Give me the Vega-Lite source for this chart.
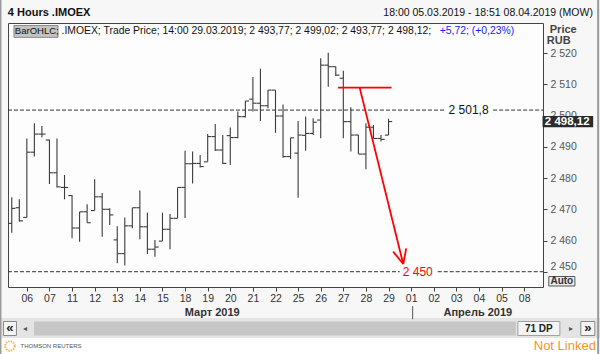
{
  "$schema": "https://vega.github.io/schema/vega-lite/v6.json",
  "width": 535,
  "height": 264,
  "autosize": {"type": "none"},
  "padding": {"left": 8, "top": 23, "right": 57, "bottom": 67},
  "background": "#f7f7f7",
  "config": {
    "view": {"stroke": "#444444", "strokeWidth": 1, "fill": "#fdfdfd"},
    "font": "Liberation Sans"
  },
  "data": {"values": [{}]},
  "datasets": {
    "ohlc": [
      {"i": 0, "o": 2465.5, "h": 2473.9, "l": 2462.5, "c": 2470.3},
      {"i": 1, "o": 2470.5, "h": 2473.2, "l": 2466.0, "c": 2466.3},
      {"i": 2, "o": 2467.4, "h": 2492.7, "l": 2467.4, "c": 2488.3},
      {"i": 3, "o": 2488.3, "h": 2497.6, "l": 2486.9, "c": 2494.1},
      {"i": 4, "o": 2494.1, "h": 2496.7, "l": 2493.1, "c": 2494.1},
      {"i": 5, "o": 2492.2, "h": 2492.4, "l": 2478.1, "c": 2481.7},
      {"i": 6, "o": 2481.7, "h": 2492.7, "l": 2477.0, "c": 2477.2},
      {"i": 7, "o": 2477.0, "h": 2481.0, "l": 2473.2, "c": 2477.0},
      {"i": 8, "o": 2474.4, "h": 2474.6, "l": 2460.7, "c": 2464.0},
      {"i": 9, "o": 2464.0, "h": 2469.2, "l": 2459.6, "c": 2469.2},
      {"i": 10, "o": 2469.2, "h": 2471.6, "l": 2465.7, "c": 2465.7},
      {"i": 11, "o": 2469.6, "h": 2479.6, "l": 2469.6, "c": 2474.0},
      {"i": 12, "o": 2474.0, "h": 2475.2, "l": 2461.2, "c": 2470.0},
      {"i": 13, "o": 2470.0, "h": 2470.3, "l": 2465.0, "c": 2468.2},
      {"i": 14, "o": 2460.2, "h": 2464.6, "l": 2452.7, "c": 2455.8},
      {"i": 15, "o": 2455.8, "h": 2467.4, "l": 2452.0, "c": 2464.7},
      {"i": 16, "o": 2464.7, "h": 2470.5, "l": 2463.9, "c": 2470.5},
      {"i": 17, "o": 2470.5, "h": 2476.0, "l": 2460.4, "c": 2464.4},
      {"i": 18, "o": 2464.4, "h": 2468.9, "l": 2455.7, "c": 2457.2},
      {"i": 19, "o": 2457.2, "h": 2460.2, "l": 2454.8, "c": 2457.9},
      {"i": 20, "o": 2459.8, "h": 2468.9, "l": 2459.8, "c": 2463.6},
      {"i": 21, "o": 2463.6, "h": 2468.5, "l": 2457.2, "c": 2467.1},
      {"i": 22, "o": 2467.1, "h": 2477.0, "l": 2467.1, "c": 2477.0},
      {"i": 23, "o": 2477.0, "h": 2488.8, "l": 2467.2, "c": 2484.6},
      {"i": 24, "o": 2484.6, "h": 2488.5, "l": 2478.3, "c": 2484.7},
      {"i": 25, "o": 2484.7, "h": 2487.4, "l": 2483.4, "c": 2483.7},
      {"i": 26, "o": 2485.2, "h": 2494.1, "l": 2485.2, "c": 2493.3},
      {"i": 27, "o": 2493.3, "h": 2497.3, "l": 2488.7, "c": 2489.0},
      {"i": 28, "o": 2489.0, "h": 2493.8, "l": 2484.5, "c": 2484.7},
      {"i": 29, "o": 2493.6, "h": 2496.2, "l": 2484.2, "c": 2493.0},
      {"i": 30, "o": 2493.0, "h": 2501.3, "l": 2492.8, "c": 2499.7},
      {"i": 31, "o": 2499.7, "h": 2504.7, "l": 2499.4, "c": 2504.7},
      {"i": 32, "o": 2505.3, "h": 2512.4, "l": 2501.3, "c": 2504.0},
      {"i": 33, "o": 2504.0, "h": 2515.0, "l": 2498.3, "c": 2503.2},
      {"i": 34, "o": 2503.2, "h": 2508.2, "l": 2502.4, "c": 2508.2},
      {"i": 35, "o": 2508.2, "h": 2508.2, "l": 2494.5, "c": 2499.9},
      {"i": 36, "o": 2499.9, "h": 2503.6, "l": 2486.5, "c": 2486.9},
      {"i": 37, "o": 2486.9, "h": 2492.9, "l": 2486.1, "c": 2492.9},
      {"i": 38, "o": 2488.0, "h": 2498.3, "l": 2473.7, "c": 2493.8},
      {"i": 39, "o": 2493.7, "h": 2499.7, "l": 2488.8, "c": 2494.3},
      {"i": 40, "o": 2494.3, "h": 2499.2, "l": 2493.8, "c": 2497.9},
      {"i": 41, "o": 2498.6, "h": 2518.4, "l": 2492.8, "c": 2516.2},
      {"i": 42, "o": 2516.2, "h": 2520.2, "l": 2509.3, "c": 2515.7},
      {"i": 43, "o": 2515.7, "h": 2515.8, "l": 2512.7, "c": 2513.0},
      {"i": 44, "o": 2512.0, "h": 2514.4, "l": 2492.8, "c": 2498.1},
      {"i": 45, "o": 2498.1, "h": 2502.7, "l": 2488.5, "c": 2493.8},
      {"i": 46, "o": 2493.8, "h": 2493.9, "l": 2487.7, "c": 2487.7},
      {"i": 47, "o": 2487.7, "h": 2497.6, "l": 2482.8, "c": 2496.3},
      {"i": 48, "o": 2496.3, "h": 2497.0, "l": 2492.7, "c": 2492.7},
      {"i": 49, "o": 2492.7, "h": 2493.8, "l": 2491.7, "c": 2492.4},
      {"i": 50, "o": 2493.77, "h": 2499.02, "l": 2493.77, "c": 2498.12}
    ],
    "segs": [
      {"x": 43.3, "y": 2509.0, "x2": 50.4, "y2": 2509.0},
      {"x": 46.17, "y": 2509.0, "x2": 51.95, "y2": 2452.47},
      {"x": 50.61, "y": 2456.44, "x2": 51.95, "y2": 2452.47},
      {"x": 52.35, "y": 2457.5, "x2": 51.95, "y2": 2452.47}
    ]
  },
  "layer": [
    {"mark": {"type": "rect", "fill": "#e4e4e4"},
     "encoding": {"x": {"datum": -1.633, "type": "quantitative"}, "x2": {"datum": 78.05}, "y": {"datum": 2435.16, "type": "quantitative"}, "y2": {"datum": 2428.75}}},
    {"mark": {"type": "rect", "fill": "#ffffff"},
     "encoding": {"x": {"datum": -1.633, "type": "quantitative"}, "x2": {"datum": 78.05}, "y": {"datum": 2428.75, "type": "quantitative"}, "y2": {"datum": 2423.0}}},
    {"mark": {"type": "rule", "stroke": "#9a9a9a", "strokeWidth": 2},
     "encoding": {"x": {"datum": -1.5, "type": "quantitative"}, "y": {"datum": 2537.5, "type": "quantitative"}, "y2": {"datum": 2423.0}}},
    {"mark": {"type": "rule", "stroke": "#9a9a9a", "strokeWidth": 2},
     "encoding": {"x": {"datum": 77.82, "type": "quantitative"}, "y": {"datum": 2537.5, "type": "quantitative"}, "y2": {"datum": 2423.0}}},
    {"mark": {"type": "rect", "fill": "#c6c6c6"},
     "encoding": {"x": {"datum": 2.95, "type": "quantitative"}, "x2": {"datum": 66.89}, "y": {"datum": 2434.04, "type": "quantitative"}, "y2": {"datum": 2429.55}}},
    {"mark": {"type": "rect", "fill": "#f4f4f4", "stroke": "#a0a0a0", "strokeWidth": 1},
     "encoding": {"x": {"datum": 67.16, "type": "quantitative"}, "x2": {"datum": 72.74}, "y": {"datum": 2434.04, "type": "quantitative"}, "y2": {"datum": 2429.55}}},
    {"mark": {"type": "rect", "fill": "#f4f4f4", "stroke": "#888888", "strokeWidth": 1},
     "encoding": {"x": {"datum": -1.1, "type": "quantitative"}, "x2": {"datum": 0.62}, "y": {"datum": 2434.04, "type": "quantitative"}, "y2": {"datum": 2429.55}}},
    {"mark": {"type": "rect", "fill": "#f4f4f4", "stroke": "#888888", "strokeWidth": 1},
     "encoding": {"x": {"datum": 75.52, "type": "quantitative"}, "x2": {"datum": 77.38}, "y": {"datum": 2434.04, "type": "quantitative"}, "y2": {"datum": 2429.55}}},
    {"mark": {"type": "rect", "fill": "#ececec", "stroke": "#555555", "strokeWidth": 1},
     "encoding": {"x": {"datum": 71.27, "type": "quantitative"}, "x2": {"datum": 74.73}, "y": {"datum": 2448.46, "type": "quantitative"}, "y2": {"datum": 2445.42}}},
    {"mark": {"type": "rect", "fill": "#c4c4c4", "stroke": "#8a8a8a", "strokeWidth": 1},
     "encoding": {"x": {"datum": 0.29, "type": "quantitative"}, "x2": {"datum": 6.14}, "y": {"datum": 2528.9, "type": "quantitative"}, "y2": {"datum": 2525.1}}},
    {"mark": {"type": "rule", "stroke": "#333333", "strokeWidth": 1, "strokeDash": [4, 2]},
     "encoding": {"x": {"datum": -0.5, "type": "quantitative"}, "x2": {"datum": 57.46}, "y": {"datum": 2501.8, "type": "quantitative"}}},
    {"mark": {"type": "rule", "stroke": "#333333", "strokeWidth": 1, "strokeDash": [4, 2]},
     "encoding": {"x": {"datum": 63.88, "type": "quantitative"}, "x2": {"datum": 70.5}, "y": {"datum": 2501.8, "type": "quantitative"}}},
    {"mark": {"type": "rule", "stroke": "#333333", "strokeWidth": 1, "strokeDash": [4, 2]},
     "encoding": {"x": {"datum": -0.5, "type": "quantitative"}, "x2": {"datum": 51.49}, "y": {"datum": 2450, "type": "quantitative"}}},
    {"mark": {"type": "rule", "stroke": "#333333", "strokeWidth": 1, "strokeDash": [4, 2]},
     "encoding": {"x": {"datum": 56.53, "type": "quantitative"}, "x2": {"datum": 70.5}, "y": {"datum": 2450, "type": "quantitative"}}},
    {"data": {"name": "ohlc"},
     "mark": {"type": "rule", "stroke": "#3a3a3a", "strokeWidth": 1.1},
     "encoding": {
       "x": {"field": "i", "type": "quantitative",
             "scale": {"domain": [-0.5, 70.5], "nice": false, "zero": false},
             "axis": {"values": [2, 5, 8, 11, 14, 17, 20, 23, 26, 29, 32, 35, 38, 41, 44, 47, 50, 53, 56, 59, 62, 65, 68],
                      "tickCount": 200,
                      "labelExpr": "['06','07','11','12','13','14','15','18','19','20','21','22','25','26','27','28','29','01','02','03','04','05','08'][round((datum.value-2)/3)]",
                      "title": null, "domain": false, "grid": false, "tickSize": 4, "tickColor": "#444444",
                      "labelPadding": 2, "labelFontSize": 10.5, "labelColor": "#333333", "labelFlush": false, "labelOverlap": false}},
       "y": {"field": "l", "type": "quantitative",
             "scale": {"domain": [2445.1, 2529.7], "nice": false, "zero": false},
             "axis": {"orient": "right", "values": [2450, 2460, 2470, 2480, 2490, 2500, 2510, 2520],
                      "tickCount": 200,
                      "labelExpr": "replace(format(datum.value, ','), ',', ' ')",
                      "title": null, "domain": false, "grid": false, "tickSize": 4, "tickColor": "#444444",
                      "labelPadding": 3, "labelFontSize": 10.5, "labelColor": "#555555", "labelOverlap": false,
                      "labelBaseline": {"condition": {"test": "datum.value == 2450", "value": "bottom"}, "value": "middle"}}},
       "y2": {"field": "h"}
     }},
    {"data": {"name": "ohlc"},
     "mark": {"type": "tick", "orient": "horizontal", "size": 3.5, "thickness": 1.1, "xOffset": -1.9, "color": "#3a3a3a", "opacity": 1},
     "encoding": {"x": {"field": "i", "type": "quantitative"}, "y": {"field": "o", "type": "quantitative"}}},
    {"data": {"name": "ohlc"},
     "mark": {"type": "tick", "orient": "horizontal", "size": 3.5, "thickness": 1.1, "xOffset": 1.9, "color": "#3a3a3a", "opacity": 1},
     "encoding": {"x": {"field": "i", "type": "quantitative"}, "y": {"field": "c", "type": "quantitative"}}},
    {"data": {"name": "segs"},
     "mark": {"type": "rule", "stroke": "#ff0000", "strokeWidth": 1.8},
     "encoding": {"x": {"field": "x", "type": "quantitative"}, "x2": {"field": "x2"}, "y": {"field": "y", "type": "quantitative"}, "y2": {"field": "y2"}}},
    {"mark": {"type": "text", "fontSize": 12, "color": "#111111", "align": "center", "baseline": "middle"},
     "encoding": {"x": {"datum": 60.62, "type": "quantitative"}, "y": {"datum": 2501.8, "type": "quantitative"}, "text": {"value": "2 501,8"}}},
    {"mark": {"type": "text", "fontSize": 12, "color": "#ff0000", "align": "center", "baseline": "middle"},
     "encoding": {"x": {"datum": 53.88, "type": "quantitative"}, "y": {"datum": 2450, "type": "quantitative"}, "text": {"value": "2 450"}}},
    {"mark": {"type": "rect", "fill": "#2b2b2b"},
     "encoding": {"x": {"datum": 70.44, "type": "quantitative"}, "x2": {"datum": 77.16}, "y": {"datum": 2499.9, "type": "quantitative"}, "y2": {"datum": 2496.28}}},
    {"mark": {"type": "text", "fontSize": 11.5, "fontWeight": "bold", "color": "#ffffff", "align": "left", "baseline": "middle"},
     "encoding": {"x": {"datum": 70.74, "type": "quantitative"}, "y": {"datum": 2498.1, "type": "quantitative"}, "text": {"value": "2 498,12"}}},
    {"mark": {"type": "text", "fontSize": 9.5, "color": "#111111", "align": "left", "baseline": "middle"},
     "encoding": {"x": {"datum": 0.41, "type": "quantitative"}, "y": {"datum": 2526.99, "type": "quantitative"}, "text": {"value": "BarOHLC;"}}},
    {"mark": {"type": "text", "fontSize": 10.4, "color": "#111111", "align": "left", "baseline": "middle"},
     "encoding": {"x": {"datum": 6.6, "type": "quantitative"}, "y": {"datum": 2526.99, "type": "quantitative"}, "text": {"value": ".IMOEX; Trade Price;  14:00 29.03.2019; 2 493,77; 2 499,02; 2 493,77; 2 498,12;"}}},
    {"mark": {"type": "text", "fontSize": 10.4, "color": "#1a1aff", "align": "right", "baseline": "middle"},
     "encoding": {"x": {"datum": 66.68, "type": "quantitative"}, "y": {"datum": 2526.99, "type": "quantitative"}, "text": {"value": "+5,72; (+0,23%)"}}},
    {"mark": {"type": "text", "fontSize": 11, "fontWeight": "bold", "color": "#111111", "align": "left", "baseline": "middle"},
     "encoding": {"x": {"datum": -0.52, "type": "quantitative"}, "y": {"datum": 2532.92, "type": "quantitative"}, "text": {"value": "4 Hours .IMOEX"}}},
    {"mark": {"type": "text", "fontSize": 10.5, "color": "#111111", "align": "right", "baseline": "middle"},
     "encoding": {"x": {"datum": 77.12, "type": "quantitative"}, "y": {"datum": 2532.92, "type": "quantitative"}, "text": {"value": "18:00 05.03.2019 - 18:51 08.04.2019 (MOW)"}}},
    {"mark": {"type": "text", "fontSize": 11, "fontWeight": "bold", "color": "#444444", "align": "left", "baseline": "middle"},
     "encoding": {"x": {"datum": 71.4, "type": "quantitative"}, "y": {"datum": 2527.47, "type": "quantitative"}, "text": {"value": "Price"}}},
    {"mark": {"type": "text", "fontSize": 11, "fontWeight": "bold", "color": "#444444", "align": "left", "baseline": "middle"},
     "encoding": {"x": {"datum": 71.0, "type": "quantitative"}, "y": {"datum": 2523.78, "type": "quantitative"}, "text": {"value": "RUB"}}},
    {"mark": {"type": "text", "fontSize": 10, "fontWeight": "bold", "color": "#333333", "align": "center", "baseline": "middle"},
     "encoding": {"x": {"datum": 73.0, "type": "quantitative"}, "y": {"datum": 2446.92, "type": "quantitative"}, "text": {"value": "Auto"}}},
    {"mark": {"type": "text", "fontSize": 11, "fontWeight": "bold", "color": "#333333", "align": "center", "baseline": "middle"},
     "encoding": {"x": {"datum": 26.6, "type": "quantitative"}, "y": {"datum": 2436.76, "type": "quantitative"}, "text": {"value": "Март 2019"}}},
    {"mark": {"type": "text", "fontSize": 11, "fontWeight": "bold", "color": "#333333", "align": "center", "baseline": "middle"},
     "encoding": {"x": {"datum": 61.85, "type": "quantitative"}, "y": {"datum": 2436.76, "type": "quantitative"}, "text": {"value": "Апрель 2019"}}},
    {"mark": {"type": "rule", "stroke": "#555555", "strokeWidth": 1},
     "encoding": {"x": {"datum": 53.2, "type": "quantitative"}, "y": {"datum": 2439.0, "type": "quantitative"}, "y2": {"datum": 2434.8}}},
    {"mark": {"type": "text", "fontSize": 10, "fontWeight": "bold", "color": "#222222", "align": "center", "baseline": "middle"},
     "encoding": {"x": {"datum": 69.95, "type": "quantitative"}, "y": {"datum": 2431.79, "type": "quantitative"}, "text": {"value": "71 DP"}}},
    {"mark": {"type": "text", "fontSize": 13, "fontWeight": "bold", "color": "#222222", "align": "center", "baseline": "middle"},
     "encoding": {"x": {"datum": -0.24, "type": "quantitative"}, "y": {"datum": 2431.9, "type": "quantitative"}, "text": {"value": "«"}}},
    {"mark": {"type": "text", "fontSize": 13, "fontWeight": "bold", "color": "#222222", "align": "center", "baseline": "middle"},
     "encoding": {"x": {"datum": 76.45, "type": "quantitative"}, "y": {"datum": 2431.9, "type": "quantitative"}, "text": {"value": "»"}}},
    {"mark": {"type": "text", "fontSize": 8, "color": "#555555", "align": "center", "baseline": "middle"},
     "encoding": {"x": {"datum": 1.82, "type": "quantitative"}, "y": {"datum": 2431.79, "type": "quantitative"}, "text": {"value": "◂"}}},
    {"mark": {"type": "text", "fontSize": 8, "color": "#555555", "align": "center", "baseline": "middle"},
     "encoding": {"x": {"datum": 74.2, "type": "quantitative"}, "y": {"datum": 2431.79, "type": "quantitative"}, "text": {"value": "▸"}}},
    {"mark": {"type": "point", "shape": "circle", "filled": false, "stroke": "#f7941d", "strokeWidth": 2, "strokeDash": [1.5, 1], "size": 90},
     "encoding": {"x": {"datum": -0.24, "type": "quantitative"}, "y": {"datum": 2426.19, "type": "quantitative"}}},
    {"mark": {"type": "text", "fontSize": 6, "color": "#555555", "align": "left", "baseline": "middle"},
     "encoding": {"x": {"datum": 1.155, "type": "quantitative"}, "y": {"datum": 2426.19, "type": "quantitative"}, "text": {"value": "THOMSON REUTERS"}}},
    {"mark": {"type": "text", "fontSize": 13, "color": "#f7941d", "align": "right", "baseline": "middle"},
     "encoding": {"x": {"datum": 77.52, "type": "quantitative"}, "y": {"datum": 2426.19, "type": "quantitative"}, "text": {"value": "Not Linked"}}}
  ]
}
